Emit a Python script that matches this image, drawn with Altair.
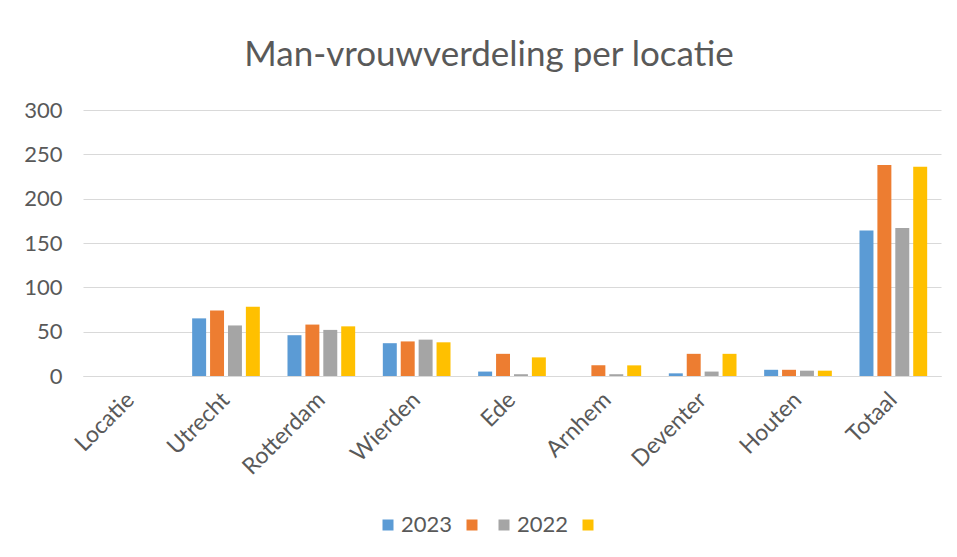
import altair as alt
import pandas as pd

categories = ["Locatie", "Utrecht", "Rotterdam", "Wierden", "Ede", "Arnhem", "Deventer", "Houten", "Totaal"]
series = ["2023", "s2", "2022", "s4"]
colors = ["#5B9BD5", "#ED7D31", "#A5A5A5", "#FFC000"]
v2023 = [0, 65, 46, 37, 5, 0, 3, 7, 164]
vs2 = [0, 74, 58, 39, 25, 12, 25, 7, 238]
v2022 = [0, 57, 52, 41, 2, 2, 5, 6, 167]
vs4 = [0, 78, 56, 38, 21, 12, 25, 6, 236]

rows = []
for s, vals in zip(series, [v2023, vs2, v2022, vs4]):
    for c, v in zip(categories, vals):
        rows.append({"locatie": c, "serie": s, "waarde": v})
df = pd.DataFrame(rows)

FONT = "Lato"
TXT = "#595959"

chart = alt.Chart(df).mark_bar().encode(
    x=alt.X("locatie:N", sort=categories, title=None,
            scale=alt.Scale(paddingInner=0.29, paddingOuter=0.145),
            axis=alt.Axis(labelAngle=-45, labelAlign="right", labelBaseline="middle",
                          labelFontSize=23, labelColor=TXT, labelFont=FONT, labelPadding=20,
                          ticks=False, domainColor="#d9d9d9", grid=False)),
    xOffset=alt.XOffset("serie:N", sort=series, scale=alt.Scale(paddingInner=0.22)),
    y=alt.Y("waarde:Q", title=None,
            scale=alt.Scale(domain=[0, 300]),
            axis=alt.Axis(values=[0, 50, 100, 150, 200, 250, 300], domain=False, ticks=False,
                          labelFontSize=22, labelColor=TXT, labelFont=FONT, labelPadding=21,
                          gridColor="#d9d9d9", gridWidth=1)),
    color=alt.Color("serie:N", sort=series,
                    scale=alt.Scale(domain=series, range=colors),
                    legend=alt.Legend(title=None, orient="none", direction="horizontal",
                                      legendX=294, legendY=404,
                                      symbolType="square", symbolSize=121, symbolStrokeWidth=0,
                                      labelFontSize=22, labelColor=TXT, labelFont=FONT,
                                      columnPadding=8, labelOffset=2,
                                      labelExpr="datum.label == '2023' || datum.label == '2022' ? datum.label : ''")),
).properties(
    width=858,
    height=266,
    autosize=alt.AutoSizeParams(type="none"),
    padding={"left": 75, "top": 102, "right": 8, "bottom": 173},
    title=alt.TitleParams("Man-vrouwverdeling per locatie", anchor="middle", frame="group",
                          fontSize=35, font=FONT, fontWeight="normal", color=TXT, offset=26, dx=-23),
).configure_view(stroke=None)

chart.save("out.html", embed_options={"renderer": "svg", "actions": False})
